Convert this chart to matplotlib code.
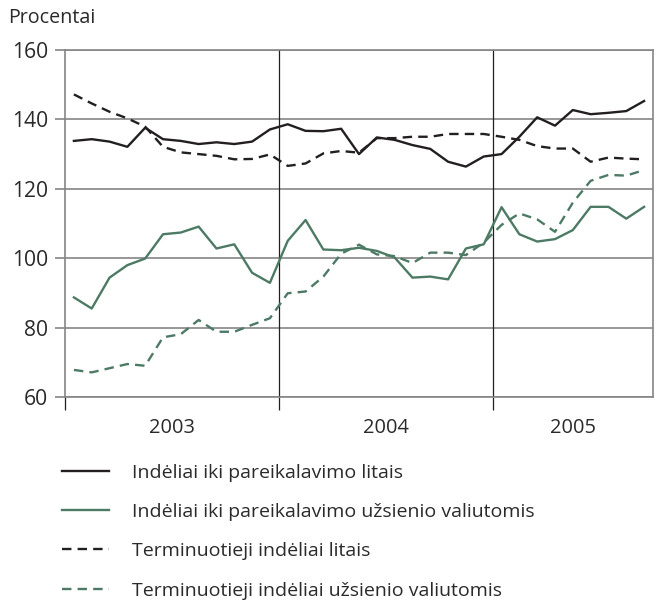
import matplotlib
matplotlib.use("Agg")
import matplotlib.pyplot as plt
import numpy as np

plt.rcParams['font.family'] = ['Open Sans', 'DejaVu Sans']

# monthly data, 2003-01 .. 2005-09
demand_lt = [133.8, 134.3, 133.6, 132.1, 137.6, 134.3, 133.8, 132.9, 133.4, 132.9, 133.6, 137.1,
             138.6, 136.7, 136.6, 137.3, 130.0, 134.8, 134.1, 132.6, 131.5, 127.8, 126.4, 129.3,
             130.0, 135.0, 140.6, 138.2, 142.7, 141.5, 141.9, 142.4, 145.3]
demand_fx = [88.7, 85.5, 94.4, 98.0, 99.9, 106.9, 107.4, 109.1, 102.8, 104.0, 95.8, 92.9,
             105.0, 111.0, 102.5, 102.3, 103.0, 102.1, 100.2, 94.4, 94.7, 93.9, 102.8, 104.0,
             114.7, 106.9, 104.8, 105.5, 108.1, 114.8, 114.8, 111.4, 114.8]
time_lt = [147.2, 144.6, 142.2, 140.3, 137.9, 132.1, 130.5, 130.0, 129.5, 128.5, 128.6, 129.9,
           126.6, 127.3, 130.2, 130.9, 130.4, 134.6, 134.6, 135.0, 135.0, 135.8, 135.8, 135.8,
           135.0, 134.1, 132.3, 131.6, 131.6, 127.8, 129.0, 128.7, 128.5]
time_fx = [67.8, 67.1, 68.3, 69.5, 69.0, 77.2, 78.1, 82.2, 78.8, 78.8, 80.8, 82.7,
           89.9, 90.4, 94.7, 101.3, 103.9, 101.1, 100.6, 98.6, 101.6, 101.6, 100.9, 104.5,
           109.6, 112.9, 111.2, 107.6, 116.0, 122.3, 124.0, 123.8, 125.4]
years = ['2003', '2004', '2005']
months_per_year = [12, 12, 9]
labels = ['Indėliai iki pareikalavimo litais',
          'Indėliai iki pareikalavimo užsienio valiutomis',
          'Terminuotieji indėliai litais',
          'Terminuotieji indėliai užsienio valiutomis']

black = '#231f20'
green = '#4d7a64'
grey = '#858585'
txt = '#2a2a2a'

fig = plt.figure(figsize=(6.59, 6.01), dpi=100)
ax = fig.add_axes([65 / 659, 1 - 397 / 601, 588 / 659, 347 / 601])

x = np.arange(len(demand_lt))
dash = (0, (4, 2.6))
ax.plot(x, demand_lt, color=black, lw=1.7, label=labels[0], zorder=4)
ax.plot(x, demand_fx, color=green, lw=1.7, label=labels[1], zorder=3)
ax.plot(x, time_lt, color=black, lw=1.7, ls=dash, label=labels[2], zorder=4)
ax.plot(x, time_fx, color=green, lw=1.7, ls=dash, label=labels[3], zorder=3)

ax.set_xlim(-0.5, len(x) - 0.5)
ax.set_ylim(60, 160)
ax.set_yticks(range(60, 161, 20))
ax.grid(axis='y', color=grey, lw=1.2)
ax.set_axisbelow(True)
for s in ax.spines.values():
    s.set_color(grey)
    s.set_linewidth(1.2)

bounds = np.cumsum([0] + months_per_year) - 0.5
for b in bounds[1:-1]:
    ax.axvline(b, color=black, lw=0.9, zorder=1)
ax.set_xticks(bounds[:-1])
ax.set_xticklabels([])
ax.set_xticks([(bounds[i] + bounds[i + 1]) / 2 for i in range(len(years))], minor=True)
ax.set_xticklabels(years, minor=True)
ax.tick_params(axis='x', which='major', length=9, width=0.9, color=black, direction='out')
ax.tick_params(axis='x', which='minor', length=0, pad=15, labelsize=14.4, labelcolor=txt)
ax.tick_params(axis='y', length=7, width=1.2, color=grey, labelsize=15.2, labelcolor=txt, pad=5)

fig.text(8 / 659, 1 - 18 / 601, 'Procentai', fontsize=14.2, color=txt, va='center', ha='left')

fig.legend(loc='upper left', bbox_to_anchor=(45 / 659, 1 - 446 / 601), frameon=False,
           fontsize=14, handlelength=2.4, handletextpad=1.2, labelspacing=1.1,
           labelcolor=txt)

fig.savefig('out.png', dpi=100)
